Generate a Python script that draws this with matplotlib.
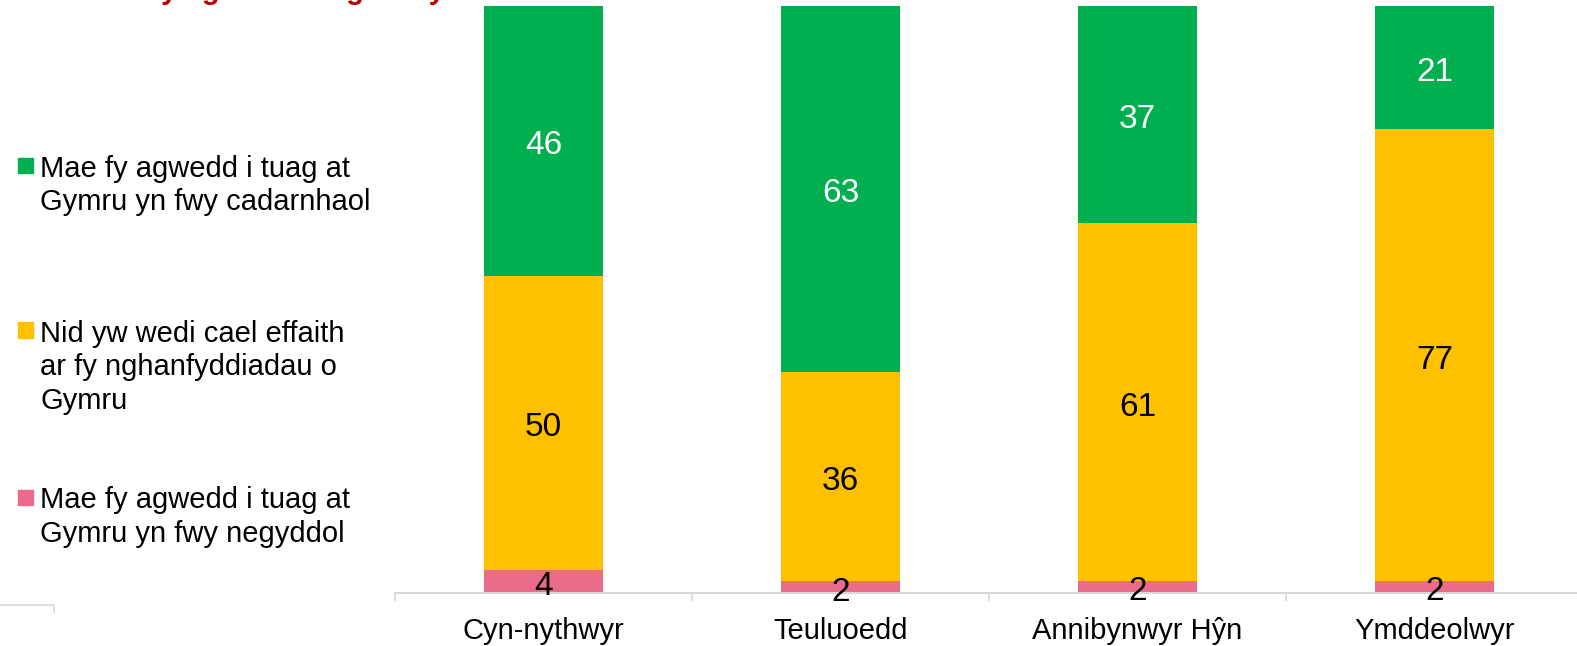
import numpy as np
import matplotlib
matplotlib.use('Agg')
import matplotlib.pyplot as plt
from matplotlib.patches import Rectangle
from matplotlib.lines import Line2D

plt.rcParams['font.family'] = ['Liberation Sans', 'DejaVu Sans']

# --- Dados ---
categorias = ['Cyn-nythwyr', 'Teuluoedd', 'Annibynwyr Hŷn', 'Ymddeolwyr']
negyddol = [4, 2, 2, 2]
dim_effaith = [50, 36, 61, 77]
cadarnhaol = [46, 63, 37, 21]
series_labels = ['Mae fy agwedd i tuag at\nGymru yn fwy cadarnhaol',
                 'Nid yw wedi cael effaith\nar fy nghanfyddiadau o\nGymru',
                 'Mae fy agwedd i tuag at\nGymru yn fwy negyddol']
teitl = "Sut mae fy agwedd tuag at Gymru wedi newid"

cores = ['#00B050', '#FFC000', '#EA6B8A']
cores_texto = ['white', 'black', 'black']

W, H = 1577, 646
fig = plt.figure(figsize=(W / 100, H / 100), dpi=100)

# eixo posicionado em pixels
ax = fig.add_axes([395 / W, 53 / H, 1188 / W, 587 / H])

# normaliza para 100% empilhado
tot = np.array(negyddol) + np.array(dim_effaith) + np.array(cadarnhaol)
pilhas = [np.array(negyddol), np.array(dim_effaith), np.array(cadarnhaol)]
pilhas_pct = [p / tot * 100 for p in pilhas]
valores = [negyddol, dim_effaith, cadarnhaol]

x = np.arange(len(categorias))
base = np.zeros(len(categorias))
ordem = [2, 1, 0]  # indice em cores/labels (cadarnhaol=0, dim=1, negyddol=2)
for i, (p, v) in enumerate(zip(pilhas_pct, valores)):
    k = ordem[i]
    barras = ax.bar(x, p, 0.4, bottom=base, color=cores[k], zorder=2)
    rotulos = ax.bar_label(barras, labels=[str(n) for n in v], label_type='center',
                           color=cores_texto[k], fontsize=24, zorder=5)
    # o Excel deixa os rotulos um pouco mais baixos
    for r in rotulos:
        r.xyann = (0, -3.5)
    base += p

ax.set_xlim(-0.5, 3.5)
ax.set_ylim(0, 100)
ax.set_yticks([])
for s in ['top', 'right', 'left']:
    ax.spines[s].set_visible(False)
ax.spines['bottom'].set_color('#d9d9d9')
ax.spines['bottom'].set_linewidth(1.5)
ax.set_xticks(x)
ax.set_xticklabels(categorias, fontsize=21)
ax.tick_params(axis='x', which='major', length=0, pad=17)
ax.set_xticks(np.arange(-0.5, 4, 1), minor=True)
ax.tick_params(axis='x', which='minor', length=6, color='#d9d9d9', width=1.2)

# legenda manual
legenda_y = [165, 330, 497]
for k in range(3):
    yc = 1 - legenda_y[k] / H
    fig.add_artist(Rectangle((18 / W, yc - 7.5 / H), 15 / W, 15 / H,
                             transform=fig.transFigure, color=cores[k]))
    fig.text(40 / W, yc + 10.5 / H, series_labels[k], fontsize=21, va='top',
             ha='left', linespacing=1.27)

# linha solta no canto inferior esquerdo
fig.add_artist(Line2D([0, 54 / W, 54 / W], [1 - 605 / H, 1 - 605 / H, 1 - 612 / H],
                      transform=fig.transFigure, color='#d9d9d9', lw=1.2))

# titulo (quase todo fora da imagem, como no original)
fig.text(30 / W, 1 + 1 / H, teitl, fontsize=21, fontweight='bold', color='#C00000',
         ha='left', va='baseline')

fig.savefig('out.png', dpi=100)
